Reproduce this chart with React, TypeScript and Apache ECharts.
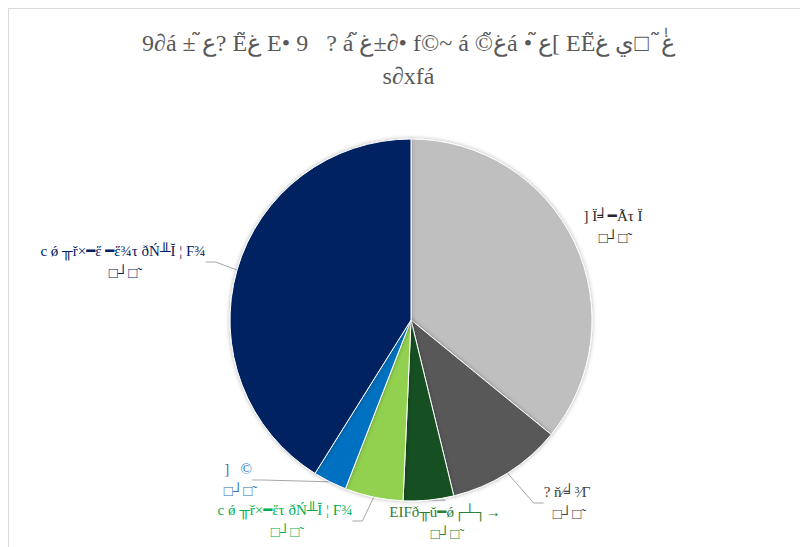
import React, { useEffect, useRef } from "react";
import * as echarts from "echarts";

const titleLines = [
  "9∂á ± ع̃? Eغ̃ E• 9   ? á غ̃±∂• f©~ á ©غ̃á • ع̃[ EEغٰ̃  □ي غ̃",
  "s∂xfá",
];
const categories = [
  "] Ï╛━Ãτ Ï",
  "? ň⁄╛³⁄Г",
  "EIFð╥ŭ━ǿ┌┴┐→",
  "c ǿ ╥ř×━ἕτ ðŃ╨Ĭ ¦ Ϝ¾",
  "]   ©",
  "c ǿ ╥ř×━ἕ ━ἕ¾τ ðŃ╨Ĭ ¦ Ϝ¾",
];
const values = [35.9, 10.3, 4.5, 5.2, 3.0, 41.1];
const percentLabels = ["□┘□̃", "□┘□̃", "□┘□̃", "□┘□̃", "□┘□̃", "□┘□̃"];

const sliceColors = ["#bfbfbf", "#595959", "#155020", "#92d050", "#0070c0", "#002060"];
const labelColors = ["#262626", "#404040", "#2e7d32", "#00b050", "#2e75b6", "#002060"];
const labelCenters: [number, number][] = [
  [612, 226],
  [566, 502],
  [444, 522],
  [284, 520],
  [237, 479],
  [122, 261],
];

const FONT = "'Liberation Serif', 'DejaVu Serif', serif";

export default function App() {
  const ref = useRef<HTMLDivElement>(null);
  useEffect(() => {
    if (!ref.current) return;
    const chart = echarts.init(ref.current, null, { renderer: "svg" });
    chart.setOption({
      animation: false,
      backgroundColor: "#ffffff",
      title: {
        text: titleLines.join("\n"),
        left: "center",
        top: 12,
        textStyle: {
          fontFamily: FONT,
          fontSize: 24,
          fontWeight: "normal",
          color: "#595959",
          lineHeight: 33,
        },
      },
      series: [
        {
          type: "pie",
          center: [402, 311],
          radius: 181,
          startAngle: 90,
          clockwise: true,
          avoidLabelOverlap: false,
          itemStyle: {
            borderColor: "#ffffff",
            borderWidth: 1,
            shadowBlur: 4,
            shadowColor: "rgba(0,0,0,0.3)",
          },
          label: {
            show: true,
            position: "outside",
            fontFamily: FONT,
            fontSize: 15,
            lineHeight: 22,
            align: "center",
          },
          labelLine: {
            show: true,
            length: 10,
            length2: 10,
            lineStyle: { color: "#a6a6a6", width: 1 },
          },
          labelLayout: (params: any) => {
            const c = labelCenters[params.dataIndex];
            return {
              x: c[0] - 8,
              y: c[1] - 8,
              align: "center",
              verticalAlign: "middle",
            };
          },
          data: categories.map((name, i) => ({
            name,
            value: values[i],
            itemStyle: { color: sliceColors[i] },
            label: {
              color: labelColors[i],
              formatter: name + "\n" + percentLabels[i],
            },
            labelLine: { show: i !== 0 },
          })),
        },
      ],
    });
    return () => chart.dispose();
  }, []);
  return (
    <div
      ref={ref}
      style={{
        position: "fixed",
        left: 8,
        top: 8,
        width: 800,
        height: 545,
        boxSizing: "border-box",
        borderLeft: "1px solid #d9d9d9",
        borderTop: "1px solid #d9d9d9",
      }}
    />
  );
}
